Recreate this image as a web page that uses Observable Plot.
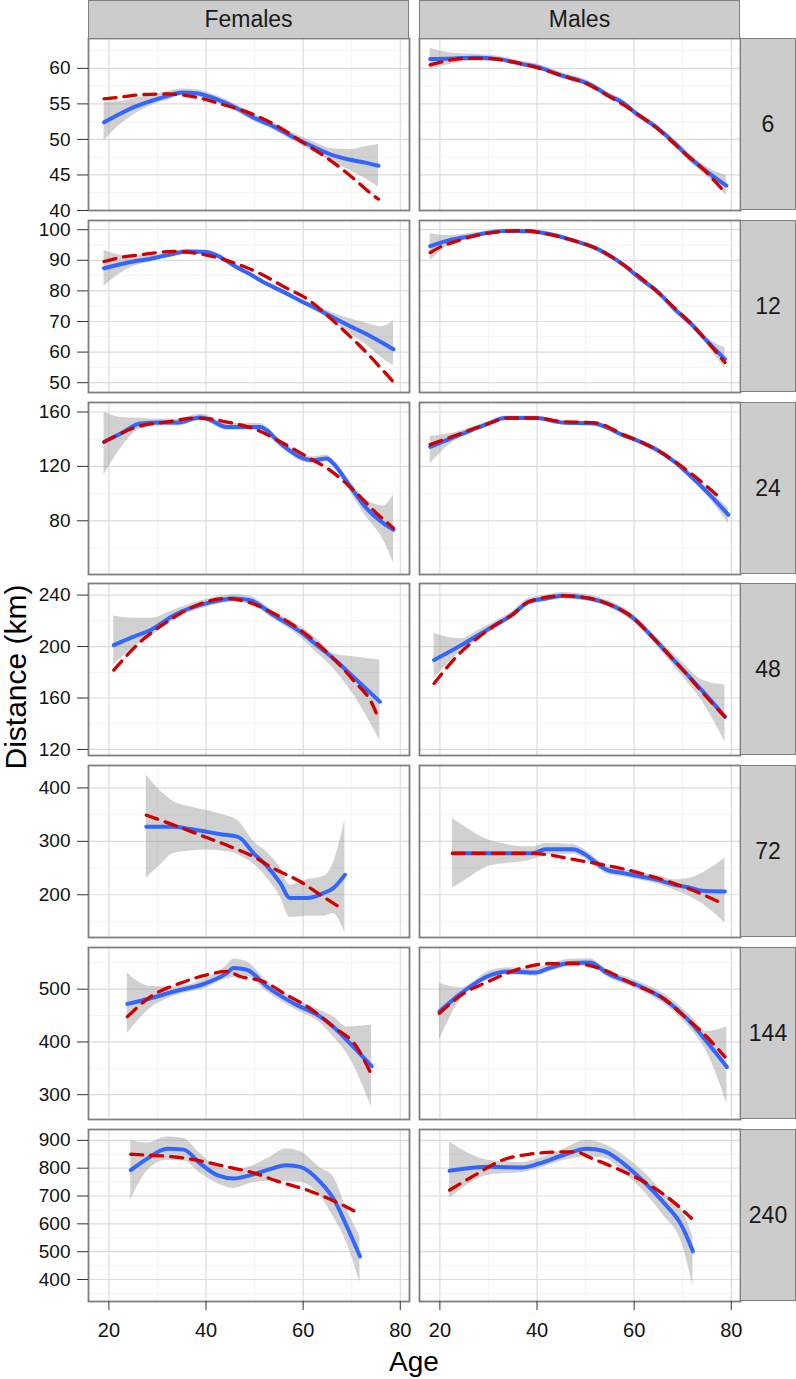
<!DOCTYPE html>
<html>
<head>
<meta charset="utf-8">
<script src="https://cdn.jsdelivr.net/npm/d3@7"></script>
<script src="https://cdn.jsdelivr.net/npm/@observablehq/plot@0.6"></script>
<style>
  html, body { margin: 0; padding: 0; background: #ffffff; }
  body { font-family: "Liberation Sans", Arial, sans-serif; }
  #chart { position: relative; width: 796px; height: 1379px; overflow: hidden; }
  #chart svg { position: absolute; left: 0; overflow: visible; }
  .strip { position: absolute; box-sizing: border-box; background: #cccccc; border: 1.6px solid #7f7f7f;
           display: flex; align-items: center; justify-content: center; font-size: 23px; color: #1a1a1a; }
  .title { position: absolute; white-space: nowrap; color: #000; line-height: 1; }
</style>
</head>
<body>
<div id="chart"></div>
<script>
// ---------------- data ----------------
const sexes = ["Females", "Males"];
const durations = [6, 12, 24, 48, 72, 144, 240];
const xTicks = [20, 40, 60, 80];
const xDomain = [15.8, 81.9];
const yTicks6 = [40, 45, 50, 55, 60];
const yTicks12 = [50, 60, 70, 80, 90, 100];
const yTicks24 = [80, 120, 160];
const yTicks48 = [120, 160, 200, 240];
const yTicks72 = [200, 300, 400];
const yTicks144 = [300, 400, 500];
const yTicks240 = [400, 500, 600, 700, 800, 900];
const yDomain6 = [40, 64.2];
const yDomain12 = [46.8, 103];
const yDomain24 = [40.5, 167];
const yDomain48 = [115.3, 249];
const yDomain72 = [120, 442];
const yDomain144 = [253, 579];
const yDomain240 = [321, 939];

// smooth fit: [age, fit, lower, upper]
const fitF6 = [[19,52.4,49.8,55.2],[22,53.5,51.9,55.3],[25,54.5,53.4,55.7],[28.6,55.4,54.7,56.2],[32,56.1,55.5,56.7],[35,56.6,56.1,57.1],[38,56.5,56.0,57.0],[42,55.7,55.2,56.2],[46,54.5,54.0,55.0],[50,53.0,52.5,53.5],[54,51.8,51.3,52.3],[58,50.3,49.8,50.9],[62,49.0,48.3,49.7],[66,47.8,46.9,48.7],[70,47.1,45.5,48.6],[73,46.7,44.4,49.0],[75.5,46.3,43.3,49.3]];
const fitM6 = [[18,61.3,59.9,62.8],[23,61.4,60.7,62.1],[27,61.5,61.0,62.0],[32,61.3,60.9,61.7],[37,60.6,60.2,61.0],[40,60.2,59.8,60.6],[45,59.0,58.6,59.4],[51,57.7,57.3,58.1],[54.4,56.3,55.9,56.7],[57.8,55.1,54.7,55.5],[60.3,53.7,53.3,54.1],[64.8,51.6,51.2,52.0],[68.3,49.5,49.0,50.0],[71.8,47.2,46.6,47.8],[75.3,45.3,44.6,46.0],[79,43.5,42.1,44.9]];
const fitF12 = [[19,87.4,81.5,93.2],[23.7,89.2,87.0,91.5],[28.6,90.5,89.5,91.5],[33,92.0,91.3,92.7],[36,92.9,92.2,93.6],[40,92.7,92.0,93.4],[43,91.0,90.3,91.7],[45.7,88.3,87.6,89.0],[49,85.5,84.8,86.2],[52.5,82.3,81.6,83.0],[56,79.6,78.9,80.3],[59.4,76.8,76.1,77.5],[63,74.0,73.0,75.0],[66.2,71.3,69.8,72.8],[70,68.2,65.7,70.7],[73,65.9,62.4,69.4],[76,63.3,58.3,68.3],[78.6,60.9,55.5,70.2]];
const fitM12 = [[18,94.6,89.9,98.7],[22,96.6,95.1,98.1],[26.5,97.9,97.0,98.8],[30,99.0,98.4,99.6],[33.4,99.6,99.0,100.2],[38.3,99.5,98.9,100.1],[43.9,98.1,97.5,98.7],[48,96.2,95.6,96.8],[52.3,93.8,93.2,94.4],[57.8,88.5,87.9,89.1],[61.3,83.9,83.2,84.6],[64.8,79.8,79.0,80.6],[68.3,74.1,73.2,75.0],[71.8,69.1,68.0,70.2],[75.3,63.1,61.8,64.4],[78.7,57.7,54.4,61.5]];
const fitF24 = [[19,138.0,113.7,160.0],[22.4,144.1,133.0,156.0],[26.5,151.5,147.5,155.5],[30.6,152.2,149.7,154.7],[34,152.2,149.7,154.7],[38.8,155.9,153.4,158.4],[40.2,155.1,152.6,157.6],[44.3,149.0,146.5,151.5],[51.2,149.0,146.5,151.5],[52.5,146.6,144.1,149.1],[54.6,139.3,136.8,141.8],[56.6,133.2,130.7,135.7],[60,125.9,123.4,128.4],[62.1,124.6,122.1,127.1],[64.9,125.9,123.4,128.4],[66.2,122.2,119.5,124.9],[69.7,105.1,101.0,109.0],[73,89.3,83.0,95.5],[76.5,78.3,66.0,91.0],[78.6,73.4,49.0,99.0]];
const fitM24 = [[18,134.4,122.0,142.0],[23,141.7,138.7,144.7],[26.5,146.6,144.6,148.6],[30,151.5,150.0,153.0],[33.4,155.6,154.1,157.1],[39.7,155.6,154.1,157.1],[45.3,152.2,150.7,153.7],[51.6,151.5,150.0,153.0],[57.8,142.9,141.4,144.4],[61.3,138.0,136.5,139.5],[64.8,131.9,130.2,133.6],[68.3,123.4,121.4,125.4],[71.8,112.4,110.0,114.8],[75.3,100.2,97.2,103.2],[79.4,84.4,78.0,89.0]];
const fitF48 = [[21,201.1,185.6,223.7],[25,207.5,199.0,222.0],[28.6,212.8,207.6,221.9],[33.4,224.4,220.4,228.4],[40,233.5,230.5,236.5],[45.7,237.4,234.4,240.4],[49,236.1,233.1,239.1],[53.9,224.4,221.4,227.4],[59.4,211.5,207.5,215.5],[63,200.5,194.5,205.5],[66.2,190.8,183.0,194.6],[70.3,176.5,163.0,192.0],[75.8,157.1,127.2,189.5]];
const fitM48 = [[18.8,189.5,175.2,210.2],[24.4,201.1,196.1,206.1],[27.9,208.9,205.4,212.4],[31.4,216.7,213.7,219.7],[34.8,224.4,221.9,226.9],[38.3,234.8,232.3,237.3],[41.8,237.4,234.9,239.9],[45.3,239.5,237.0,242.0],[50.9,237.4,234.9,239.9],[54.4,233.5,231.0,236.0],[59.9,221.9,219.0,224.8],[63.4,208.9,205.9,211.9],[66.9,194.6,190.6,198.6],[70.4,180.4,175.0,185.8],[73.9,166.1,158.1,174.1],[78.7,145.4,126.0,170.0]];
const fitF72 = [[27.7,327.3,231.0,423.6],[30.5,327.3,255.0,395.0],[33.4,327.3,277.6,373.9],[36.7,323.0,282.0,365.0],[40,318.0,284.0,358.0],[43.3,313.0,282.0,350.0],[46.4,308.7,276.0,340.0],[47.1,305.6,272.0,334.0],[49.8,277.6,258.0,300.0],[52.5,254.0,232.0,280.0],[55.3,221.7,196.0,250.0],[57.3,193.8,158.0,218.0],[60.8,193.8,160.0,228.0],[64.2,203.1,160.0,234.0],[66.2,212.4,165.0,259.0],[68.6,237.3,128.6,339.8]];
const fitM72 = [[22.6,277.6,212.4,342.9],[26,277.6,232.0,322.0],[30,277.6,252.8,302.5],[39,277.6,265.6,289.6],[41.8,285.0,274.0,296.0],[47.4,285.0,276.0,294.0],[49.5,277.6,269.0,286.0],[52.3,259.0,251.0,267.0],[54.4,246.6,239.0,254.0],[57.8,240.5,233.5,247.5],[61.3,234.2,227.2,241.2],[64.8,228.0,220.0,236.0],[68.3,218.6,209.0,228.0],[71.8,212.4,195.0,232.0],[73.9,207.5,184.0,240.0],[78.7,206.2,147.2,268.3]];
const fitF144 = [[23.8,472.1,416.2,530.5],[28.6,482.9,463.8,505.0],[33.4,495.6,486.6,504.6],[40,511.4,502.4,520.4],[44.3,530.5,520.0,545.0],[45.7,540.0,522.0,557.0],[48.4,536.8,524.0,552.0],[52.5,505.1,495.1,515.1],[58,473.3,463.3,483.3],[63.5,447.9,435.9,459.9],[66.2,428.9,410.0,448.0],[69,403.5,378.5,428.5],[74.1,354.0,276.5,432.0]];
const fitM144 = [[19.9,457.5,403.5,511.4],[24.4,492.4,482.4,502.4],[30,525.4,517.4,533.4],[34.1,533.7,526.7,540.7],[39.7,531.7,524.7,538.7],[42.5,540.0,533.0,547.0],[46.7,549.5,542.5,556.5],[50.9,550.8,543.8,557.8],[54.4,530.5,523.5,537.5],[61.3,505.1,497.1,513.1],[66.9,476.5,466.5,486.5],[71.8,435.2,422.5,448.0],[75,400.0,380.0,420.0],[79.1,352.7,282.9,428.9]];
const fitF240 = [[24.5,792.9,685.7,900.0],[27.9,834.5,790.0,890.0],[32,870.2,828.6,912.0],[35.4,866.7,826.7,906.7],[38.8,816.7,781.7,851.7],[42.3,775.0,745.0,805.0],[45.7,763.1,727.4,792.9],[49.1,775.0,745.0,805.0],[52.5,792.9,752.9,832.9],[56.6,810.7,751.2,870.2],[59.4,804.8,749.8,859.8],[63.5,751.2,701.2,801.2],[66.2,691.7,626.0,769.0],[69,590.5,530.5,650.5],[71.7,483.3,388.0,554.8]];
const fitM240 = [[22,790.5,691.7,894.0],[30,804.8,775.0,828.6],[36.9,802.4,784.4,820.4],[40.4,816.7,798.7,834.7],[45.3,846.4,826.4,866.4],[50.2,870.2,840.0,900.0],[53.7,861.9,836.9,886.9],[57.8,816.7,786.7,846.7],[62,751.2,716.2,786.2],[66.2,673.8,626.0,709.5],[69.7,596.4,536.4,656.4],[72.1,501.2,376.0,554.8]];

// dashed comparison curve: [age, value]
const redF6 = [[19,55.7],[23,56.0],[26.5,56.3],[32,56.4],[37.5,56.0],[43,55.0],[49.8,53.5],[54.6,51.9],[59.4,49.8],[64.9,47.4],[69.7,44.9],[74.5,42.1],[75.5,41.6]];
const redM6 = [[18,60.5],[21,61.0],[25,61.4],[30,61.4],[35,60.9],[40,60.1],[45,59.0],[50,57.9],[55,56.0],[60,53.9],[65,51.4],[70,48.3],[75,45.3],[79,42.3]];
const redF12 = [[19,89.6],[22.7,91.0],[26.5,91.8],[33.4,92.9],[38.8,92.1],[42,91.0],[45.7,89.2],[51.2,85.6],[56.6,80.9],[60.8,77.4],[66.2,70.2],[71.7,62.0],[78.6,50.2]];
const redM12 = [[18,92.5],[20,94.3],[23,96.0],[27,97.9],[32,99.3],[37,99.7],[42,98.6],[47,96.7],[52,94.0],[57,89.4],[62,83.5],[67,76.4],[72,68.8],[78.7,56.6]];
const redF24 = [[19,138.0],[26.5,149.8],[32,152.7],[37.5,155.6],[40.2,155.1],[45,152.2],[49.8,147.8],[56,136.8],[61.4,125.9],[65.5,117.3],[70.3,102.7],[75.1,85.6],[78.6,74.6]];
const redM24 = [[18,136.0],[23,142.5],[30,151.5],[34,155.6],[40,155.6],[45,153.0],[52,152.0],[58,143.0],[65,131.5],[72,114.0],[78,95.9]];
const redF48 = [[21,181.7],[26.5,203.7],[32,219.3],[39,233.5],[44.3,237.4],[48.4,234.8],[54.6,224.4],[60.8,208.9],[66.2,190.8],[70.3,173.9],[74.5,153.2],[75.6,143.0]];
const redM48 = [[18.8,171.3],[24.4,195.9],[27.9,207.0],[31.4,216.7],[34.8,224.4],[38.3,234.8],[45.3,239.5],[50.9,237.4],[54.4,233.5],[59.9,221.9],[63.4,208.9],[66.9,194.6],[70.4,180.4],[73.9,165.0],[78.7,145.4]];
const redF72 = [[27.7,349.1],[33.4,330.4],[38.8,311.8],[45,290.0],[49.8,271.4],[53.8,249.7],[59.4,224.8],[63.5,200.0],[68.3,172.0]];
const redM72 = [[22.6,277.6],[39,277.6],[42.5,274.5],[48,265.2],[53.7,255.9],[60,243.5],[64.8,231.1],[71.8,209.3],[78,184.5]];
const redF144 = [[23.8,447.9],[28.6,486.0],[34.7,511.4],[40.2,527.3],[44.3,533.7],[47,524.1],[51.8,514.6],[56.6,489.2],[61.4,463.8],[66.2,428.9],[71,390.8],[73.8,343.2]];
const redM144 = [[19.9,454.3],[25,492.4],[30,514.6],[36.9,540.0],[42.5,548.3],[48,548.3],[53.7,536.8],[60,508.3],[65.5,486.0],[70.4,447.9],[74.6,413.0],[78.7,371.7]];
const redF240 = [[24.5,850.0],[28.6,846.4],[33.4,840.5],[38.8,826.2],[44.3,804.8],[49.1,786.9],[54.6,753.6],[60.8,721.4],[66.2,683.3],[71.4,638.1]];
const redM240 = [[22,721.4],[27.2,775.0],[32.8,828.6],[38.3,850.0],[44.6,858.3],[48.1,858.3],[50.9,838.1],[56.4,798.8],[62,751.2],[66.9,695.2],[71.8,620.2]];

// ---------------- assembly ----------------
const yTicksList = [yTicks6, yTicks12, yTicks24, yTicks48, yTicks72, yTicks144, yTicks240];
const yDomainList = [yDomain6, yDomain12, yDomain24, yDomain48, yDomain72, yDomain144, yDomain240];
const fitList = {Females: [fitF6, fitF12, fitF24, fitF48, fitF72, fitF144, fitF240],
                 Males:   [fitM6, fitM12, fitM24, fitM48, fitM72, fitM144, fitM240]};
const redList = {Females: [redF6, redF12, redF24, redF48, redF72, redF144, redF240],
                 Males:   [redM6, redM12, redM24, redM48, redM72, redM144, redM240]};

function minorOf(ticks, domain) {
  const step = ticks[1] - ticks[0];
  const out = [];
  for (let v = ticks[0] - step / 2; v <= ticks[ticks.length - 1] + step / 2 + 1e-9; v += step) {
    if (v >= domain[0] && v <= domain[1]) out.push(v);
  }
  return out;
}

const chart = document.getElementById("chart");
const W = 796, ML = 88, MR = 56, PH = 172, TOP0 = 38, PITCH = 181.8;
const font = '"Liberation Sans", Arial, sans-serif';
let fxScale = null;

durations.forEach((d, i) => {
  const last = i === durations.length - 1;
  const fitRows = [], redRows = [];
  for (const s of sexes) {
    for (const [age, fit, lo, hi] of fitList[s][i]) fitRows.push({sex: s, age, fit, lo, hi});
    for (const [age, val] of redList[s][i]) redRows.push({sex: s, age, val});
  }
  const yt = yTicksList[i], yd = yDomainList[i];
  const mt = 1, mb = last ? 77 : 1;
  const marks = [
    Plot.gridX(minorOf(xTicks, xDomain), {stroke: "#f3f3f3", strokeOpacity: 1, strokeWidth: 1}),
    Plot.gridY(minorOf(yt, yd), {stroke: "#f3f3f3", strokeOpacity: 1, strokeWidth: 1}),
    Plot.gridX(xTicks, {stroke: "#dcdcdc", strokeOpacity: 1, strokeWidth: 1.2}),
    Plot.gridY(yt, {stroke: "#dcdcdc", strokeOpacity: 1, strokeWidth: 1.2}),
    Plot.areaY(fitRows, {fx: "sex", x: "age", y1: "lo", y2: "hi", fill: "#999999", fillOpacity: 0.45, curve: "monotone-x"}),
    Plot.lineY(fitRows, {fx: "sex", x: "age", y: "fit", stroke: "#3366FF", strokeWidth: 4, curve: "monotone-x"}),
    Plot.lineY(redRows, {fx: "sex", x: "age", y: "val", stroke: "#d00000", strokeWidth: 3.3, strokeDasharray: "12,8", curve: "monotone-x"}),
    Plot.frame({stroke: "#7f7f7f", strokeWidth: 1.8}),
    Plot.axisY({ticks: yt, tickSize: 11, tickPadding: 7, label: null, stroke: "#333333", fontSize: 19})
  ];
  if (last) marks.push(Plot.axisX({ticks: xTicks, tickSize: 9, tickPadding: 12, label: null, stroke: "#333333", fontSize: 20}));
  const plot = Plot.plot({
    width: W,
    height: PH + mt + mb,
    marginLeft: ML, marginRight: MR, marginTop: mt, marginBottom: mb,
    style: {fontFamily: font, fontSize: "19px", color: "#111111", background: "transparent", overflow: "visible"},
    fx: {domain: sexes, paddingInner: 10 / 331, paddingOuter: 0, axis: null, label: null},
    x: last ? {domain: xDomain, label: null} : {domain: xDomain, axis: null},
    y: {domain: yd, label: null},
    marks
  });
  const top = Math.round(TOP0 + i * PITCH);
  plot.style.top = (top - mt) + "px";
  chart.appendChild(plot);
  if (!fxScale) fxScale = plot.scale("fx");

  // right-hand facet strip
  const rs = document.createElement("div");
  rs.className = "strip";
  rs.style.left = (W - MR) + "px";
  rs.style.width = (MR) + "px";
  rs.style.top = top + "px";
  rs.style.height = PH + "px";
  rs.textContent = String(d);
  chart.appendChild(rs);
});

// top facet strips
for (const s of sexes) {
  const ts = document.createElement("div");
  ts.className = "strip";
  ts.style.left = fxScale.apply(s) + "px";
  ts.style.width = fxScale.bandwidth + "px";
  ts.style.top = "0px";
  ts.style.height = (TOP0 + 1) + "px";
  ts.textContent = s;
  chart.appendChild(ts);
}

// axis titles
const xt = document.createElement("div");
xt.className = "title";
xt.textContent = "Age";
xt.style.fontSize = "28px";
xt.style.left = ((ML + W - MR) / 2) + "px";
xt.style.top = "1348px";
xt.style.transform = "translateX(-50%)";
chart.appendChild(xt);

const yl = document.createElement("div");
yl.className = "title";
yl.textContent = "Distance (km)";
yl.style.fontSize = "30px";
yl.style.left = "16px";
yl.style.top = "677px";
yl.style.transform = "translate(-50%, -50%) rotate(-90deg)";
chart.appendChild(yl);
</script>
</body>
</html>
